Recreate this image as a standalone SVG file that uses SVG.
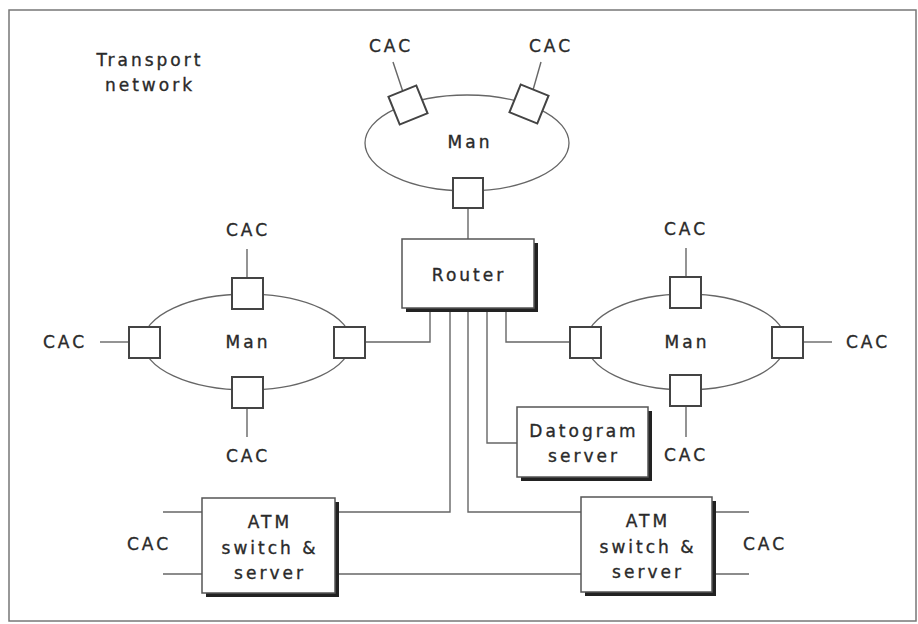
<svg xmlns="http://www.w3.org/2000/svg" width="918" height="624" viewBox="0 0 918 624">
<style>
text{font-family:"DejaVu Sans","Liberation Sans",sans-serif;font-size:17px;letter-spacing:3px;fill:#2a2a2a;stroke:#2a2a2a;stroke-width:0.35;text-anchor:middle}
.ring{fill:none;stroke:#666;stroke-width:1.3}
.sq{fill:#fff;stroke:#444;stroke-width:2}
.box{fill:#fff;stroke:#555;stroke-width:1.5}
.sh{fill:#222}
.ln{fill:none;stroke:#666;stroke-width:1.4}
</style>
<rect x="9" y="10" width="907" height="611" fill="#fff" stroke="#777" stroke-width="1.5"/>
<g id="label-transport">
<text x="150" y="66">Transport</text>
<text x="150" y="91">network</text>
</g>
<g id="connectors">
<line class="ln" x1="393" y1="62" x2="403" y2="92"/>
<line class="ln" x1="541" y1="62" x2="533" y2="90"/>
<line class="ln" x1="468" y1="208" x2="468" y2="239"/>
<line class="ln" x1="247" y1="249" x2="247" y2="278"/>
<line class="ln" x1="100" y1="342" x2="128" y2="342"/>
<line class="ln" x1="247" y1="407" x2="247" y2="437"/>
<line class="ln" x1="686" y1="248" x2="686" y2="277"/>
<line class="ln" x1="802" y1="342" x2="832" y2="342"/>
<line class="ln" x1="686" y1="406" x2="686" y2="437"/>
<polyline class="ln" points="430,310 430,342 365,342"/>
<polyline class="ln" points="450,310 450,512 338,512"/>
<polyline class="ln" points="468,310 468,512 581,512"/>
<polyline class="ln" points="487,310 487,443 517,443"/>
<polyline class="ln" points="506,310 506,342 570,342"/>
<line class="ln" x1="338" y1="574" x2="581" y2="574"/>
<line class="ln" x1="163" y1="512" x2="202" y2="512"/>
<line class="ln" x1="163" y1="574" x2="202" y2="574"/>
<line class="ln" x1="716" y1="512" x2="749" y2="512"/>
<line class="ln" x1="716" y1="574" x2="749" y2="574"/>
</g>
<g id="man-top">
<ellipse class="ring" cx="467" cy="143" rx="102" ry="48"/>
<rect class="sq" x="-15" y="-15" width="30" height="30" transform="translate(408,105) rotate(-22)"/>
<rect class="sq" x="-15" y="-15" width="30" height="30" transform="translate(529,104) rotate(22)"/>
<rect class="sq" x="453" y="178" width="30" height="30"/>
<text x="470" y="148">Man</text>
<text x="391" y="52">CAC</text>
<text x="551" y="52">CAC</text>
</g>
<g id="man-left">
<ellipse class="ring" cx="247" cy="342" rx="104" ry="48"/>
<rect class="sq" x="232" y="278" width="31" height="31"/>
<rect class="sq" x="129" y="327" width="31" height="31"/>
<rect class="sq" x="334" y="327" width="31" height="31"/>
<rect class="sq" x="232" y="377" width="31" height="31"/>
<text x="248" y="348">Man</text>
<text x="248" y="236">CAC</text>
<text x="65" y="348">CAC</text>
<text x="248" y="462">CAC</text>
</g>
<g id="man-right">
<ellipse class="ring" cx="686" cy="342" rx="100" ry="48"/>
<rect class="sq" x="670" y="277" width="31" height="31"/>
<rect class="sq" x="570" y="327" width="31" height="31"/>
<rect class="sq" x="772" y="327" width="31" height="31"/>
<rect class="sq" x="670" y="375" width="31" height="31"/>
<text x="687" y="348">Man</text>
<text x="686" y="235">CAC</text>
<text x="868" y="348">CAC</text>
<text x="686" y="461">CAC</text>
</g>
<g id="router">
<rect class="sh" x="406" y="243" width="132" height="69"/>
<rect class="box" x="402" y="239" width="132" height="69"/>
<text x="469" y="281">Router</text>
</g>
<g id="datogram-server">
<rect class="sh" x="521" y="411" width="131" height="70"/>
<rect class="box" x="517" y="407" width="131" height="70"/>
<text x="584" y="437">Datogram</text>
<text x="584" y="462">server</text>
</g>
<g id="atm-left">
<rect class="sh" x="206" y="502" width="133" height="95"/>
<rect class="box" x="202" y="498" width="133" height="95"/>
<text x="270" y="528">ATM</text>
<text x="270" y="554">switch &amp;</text>
<text x="270" y="579">server</text>
<text x="149" y="550">CAC</text>
</g>
<g id="atm-right">
<rect class="sh" x="585" y="501" width="131" height="95"/>
<rect class="box" x="581" y="497" width="131" height="95"/>
<text x="648" y="527">ATM</text>
<text x="648" y="553">switch &amp;</text>
<text x="648" y="578">server</text>
<text x="765" y="550">CAC</text>
</g>
</svg>
